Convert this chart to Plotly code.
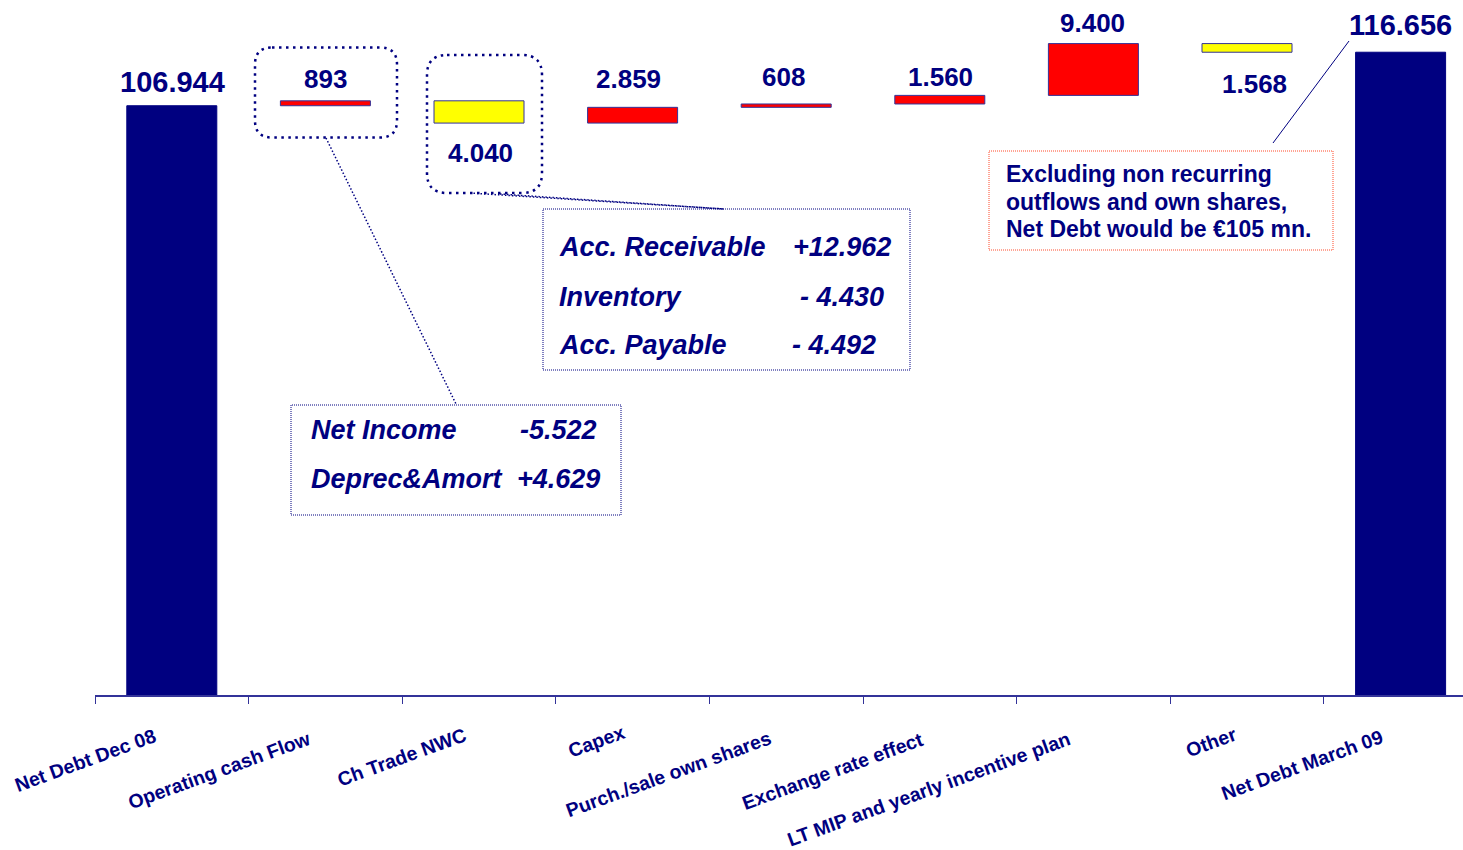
import plotly.graph_objects as go

# ---------------- data ----------------
categories = ["Net Debt Dec 08", "Operating cash Flow", "Ch Trade NWC", "Capex",
              "Purch./sale own shares", "Exchange rate effect",
              "LT MIP and yearly incentive plan", "Other", "Net Debt March 09"]
measures = ["absolute", "relative", "relative", "relative", "relative",
            "relative", "relative", "relative", "total"]
values = [106944, 893, -4040, 2859, 608, 1560, 9400, -1568, 0]  # € thousands

nwc_items = ["Acc. Receivable", "Inventory", "Acc. Payable"]
nwc_values = ["+12.962", "- 4.430", "- 4.492"]
ocf_items = ["Net Income", "Deprec&Amort"]
ocf_values = ["-5.522", "+4.629"]
note_lines = ["Excluding non recurring", "outflows and own shares,",
              "Net Debt would be €105 mn."]

# ---------------- style / layout constants ----------------
W, H = 1463, 850
L, R, T, B = 95, 0, 20, 155
PW, PH = W - L - R, H - T - B
SLOT = 153.6            # px per category
PX_PER_UNIT = 5.51 / 1000
FONT = "Liberation Sans, Arial, Helvetica, sans-serif"
NAVY = "#000080"
EDGE = "#333399"

def fmt(n):
    return f"{abs(n):,}".replace(",", ".")

# running totals
starts, ends, labels = [], [], []
run = 0
for m, v in zip(measures, values):
    if m == "absolute":
        s, e = 0, v
        run = v
        labels.append(fmt(v))
    elif m == "relative":
        s, e = run, run + v
        run += v
        labels.append(fmt(v))
    else:
        s, e = 0, run
        labels.append(fmt(run))
    starts.append(s)
    ends.append(e)

fig = go.Figure()
fig.add_trace(go.Waterfall(
    x=categories, y=values, measure=measures, width=0.586,
    increasing=dict(marker=dict(color="#FF0000", line=dict(color=EDGE, width=1))),
    decreasing=dict(marker=dict(color="#FFFF00", line=dict(color=EDGE, width=1))),
    totals=dict(marker=dict(color=NAVY, line=dict(color=NAVY, width=1))),
    connector=dict(visible=False), textinfo="none", hoverinfo="skip",
    showlegend=False,
))

annotations = []

# value labels
label_gap = [24, 22, 30, 28, 27, 18.5, 21, 32, 27.5]
label_dx = [1, 0, 1, -4, -3, 1, -1, 7, 0]
for i, (m, v, s, e, lab) in enumerate(zip(measures, values, starts, ends, labels)):
    neg = (m == "relative" and v < 0)
    yv = min(s, e) if neg else max(s, e)
    size = 29 if m != "relative" else 26
    annotations.append(dict(
        x=categories[i], y=yv, xref="x", yref="y", text=f"<b>{lab}</b>",
        showarrow=False, xanchor="center", yanchor="middle",
        yshift=-label_gap[i] if neg else label_gap[i], xshift=label_dx[i],
        font=dict(family=FONT, size=size, color=NAVY)))

# rotated category labels
cat_dx = [-86, -106, -77.5, -36, -118, -107.5, -165, -36, -99]
cat_dy = [65, 75, 62, 46, 79, 76, 94, 47, 70]
for i, c in enumerate(categories):
    annotations.append(dict(
        x=c, y=0, xref="x", yref="paper", text=f"<b>{c}</b>", textangle=-20,
        showarrow=False, xanchor="center", yanchor="middle",
        xshift=cat_dx[i], yshift=-cat_dy[i],
        font=dict(family=FONT, size=19.5, color=NAVY)))

def px(x):
    return (x - L) / PW

def py(y):
    return (T + PH - y) / PH

def text_px(x, y, txt, size, italic=False, anchor="left"):
    t = f"<b><i>{txt}</i></b>" if italic else f"<b>{txt}</b>"
    return dict(x=px(x), y=py(y), xref="paper", yref="paper", text=t,
                showarrow=False, xanchor=anchor, yanchor="middle", align="left",
                font=dict(family=FONT, size=size, color=NAVY))

# NWC detail box text
nwc_y = [247, 297, 345]
nwc_vx = [791, 798, 790]
for it, val, yy, vx in zip(nwc_items, nwc_values, nwc_y, nwc_vx):
    annotations.append(text_px(557, yy, it, 27, italic=True))
    annotations.append(text_px(vx, yy, val, 27, italic=True))

# Operating cash flow detail text
ocf_y = [430, 479]
ocf_vx = [518, 515]
for it, val, yy, vx in zip(ocf_items, ocf_values, ocf_y, ocf_vx):
    annotations.append(text_px(309, yy, it, 27, italic=True))
    annotations.append(text_px(vx, yy, val, 27, italic=True))

# note text
note_y = [174, 202, 229]
for line, yy in zip(note_lines, note_y):
    annotations.append(text_px(1004, yy, line, 23))

def rrect(x0, y0, x1, y1, r):
    return (f"M {px(x0 + r)},{py(y0)} L {px(x1 - r)},{py(y0)} "
            f"Q {px(x1)},{py(y0)} {px(x1)},{py(y0 + r)} L {px(x1)},{py(y1 - r)} "
            f"Q {px(x1)},{py(y1)} {px(x1 - r)},{py(y1)} L {px(x0 + r)},{py(y1)} "
            f"Q {px(x0)},{py(y1)} {px(x0)},{py(y1 - r)} L {px(x0)},{py(y0 + r)} "
            f"Q {px(x0)},{py(y0)} {px(x0 + r)},{py(y0)} Z")

def box(x0, y0, x1, y1, color, dash):
    return dict(type="rect", xref="paper", yref="paper",
                x0=px(x0), x1=px(x1), y0=py(y1), y1=py(y0),
                line=dict(color=color, width=1, dash=dash), fillcolor="rgba(0,0,0,0)")

def seg(x0, y0, x1, y1, color, width, dash):
    return dict(type="line", xref="paper", yref="paper",
                x0=px(x0), y0=py(y0), x1=px(x1), y1=py(y1),
                line=dict(color=color, width=width, dash=dash))

callout_line = dict(color=NAVY, width=2.5, dash="2.5px,4.5px")
shapes = [
    dict(type="path", xref="paper", yref="paper", path=rrect(255, 47.5, 397, 137.5, 17),
         line=callout_line),
    dict(type="path", xref="paper", yref="paper", path=rrect(427, 55, 542, 193, 20),
         line=callout_line),
    seg(326, 138, 456, 404, NAVY, 1.5, "1.5px,2px"),
    seg(470, 193, 724, 209, NAVY, 1.5, "1.5px,2px"),
    seg(500, 194, 724, 209, NAVY, 1.5, "1.5px,2px"),
    box(543, 209, 910, 370, NAVY, "1px,1px"),
    box(291, 405, 621, 515, NAVY, "1px,1px"),
    box(989, 151, 1333, 250, "#FF4A2A", "1px,1px"),
    seg(1349, 41, 1273, 143, NAVY, 1, "solid"),
]

fig.update_layout(
    width=W, height=H, margin=dict(l=L, r=R, t=T, b=B),
    paper_bgcolor="white", plot_bgcolor="white",
    xaxis=dict(type="category", range=[-0.5, -0.5 + PW / SLOT],
               showticklabels=False, ticks="outside", tickson="boundaries",
               ticklen=7, tickwidth=1, tickcolor=EDGE,
               showline=True, linecolor=EDGE, linewidth=1.5,
               showgrid=False, zeroline=False, fixedrange=True),
    yaxis=dict(range=[0, PH / PX_PER_UNIT], visible=False, showgrid=False,
               zeroline=False, fixedrange=True),
    annotations=annotations, shapes=shapes, showlegend=False,
)

fig.write_html("out.html", config={"displayModeBar": False})
